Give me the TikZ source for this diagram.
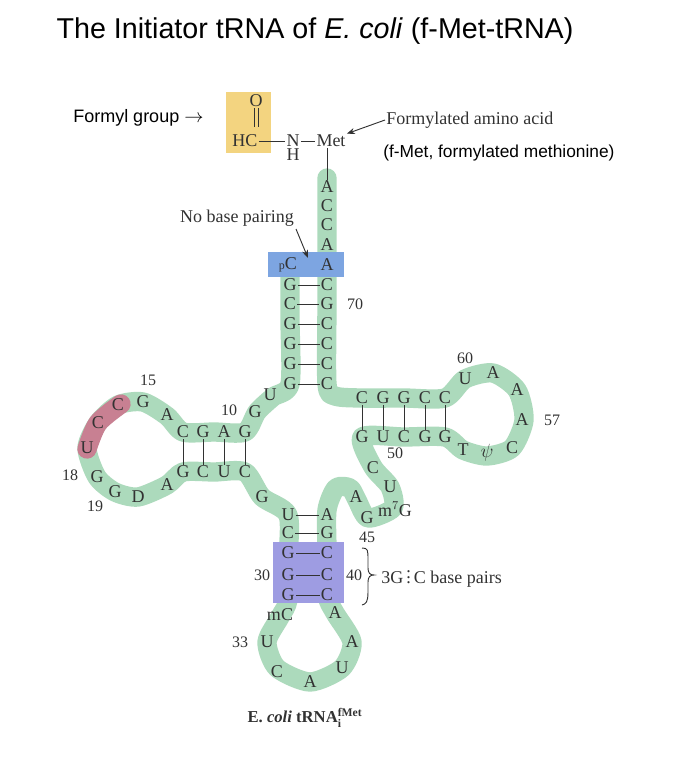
\documentclass[tikz,border=0pt]{standalone}
\usepackage{fontspec}
\setmainfont{Liberation Serif}
\newfontfamily\sansf{Liberation Sans}
\usetikzlibrary{arrows.meta}
\definecolor{band}{RGB}{172,218,188}
\definecolor{pinkb}{RGB}{200,128,146}
\definecolor{blueb}{RGB}{125,165,225}
\definecolor{purpb}{RGB}{158,156,226}
\definecolor{yelb}{RGB}{243,212,128}
\definecolor{ink}{RGB}{50,50,50}
\newcommand{\B}[4]{\node[nt] (#1) at (#2,#3) {#4};}
\newcommand{\Lb}[4]{\node[lab] (#1) at (#2,#3) {#4};}
\begin{document}
\begin{tikzpicture}[x=0.75pt,y=-0.75pt,
  nt/.style={inner sep=0.8pt,text=ink,font=\fontsize{13.5}{13.5}\selectfont},
  lab/.style={inner sep=0pt,text=ink,font=\fontsize{12}{12}\selectfont},
  pr/.style={draw=ink,line width=0.7pt},
  bandst/.style={line width=14.5pt,line cap=round,line join=round}]
\path[use as bounding box] (0,0) rectangle (689,758);
% title
\node[font=\sansf\fontsize{21.5}{21.5}\selectfont] (title) at (315,31) {The Initiator tRNA of \textit{E. coli} (f-Met-tRNA)};
% green band
\draw[bandst,band] plot[smooth,tension=0.45] coordinates {
 (290,262) (290,320) (290,384) (273,397) (257,412) (245,432) (214,432) (183,432) (167,416) (143,402)
 (118,405) (98,423) (87,448) (97,477) (115,492) (138,497) (167,485) (183,472) (214,472) (245,472)
 (262,497) (288,515) (288,560) (288,600) (280,617) (267,642) (277,668) (310,682) (342,668) (352,642)
 (335,613) (327,595) (327,550) (327,510) (336,488) (350,488) (357,500) (368,518) (393,508)
 (390,487) (373,467) (362,437) (404,437) (445,437) (463,450) (487,456) (512,448) (524,420) (517,390)
 (493,373) (465,379) (445,398) (404,398) (360,398) (335,396) (327,384) (327,300) (327,178)};
\draw[bandst,pinkb] plot[smooth,tension=0.5] coordinates {(121,404) (98,423) (87,449)};
% boxes
\fill[yelb] (226,92) rectangle (271,153);
\fill[blueb] (268,252) rectangle (344,277);
\fill[purpb] (273,542) rectangle (344,603);
% formyl
\node[font=\sansf\fontsize{13.5}{13.5}\selectfont,anchor=west,inner sep=0pt] (fg) at (73,118) {Formyl group $\rightarrow$};
\B{O}{256}{101}{O}
\B{HC}{245}{141}{HC}
\B{N}{293}{141}{N}
\B{H}{293}{155}{H}
\B{Met}{331}{141}{Met}
\draw[pr] ([xshift=-1.5pt]O.south) -- ([xshift=-1.5pt,yshift=5pt]HC.north -| O.south);
\draw[pr] ([xshift=1.5pt]O.south) -- ([xshift=1.5pt,yshift=5pt]HC.north -| O.south);
\draw[pr] (HC) -- (N);
\draw[pr] (N) -- (Met);
\node[nt,anchor=west] (faa) at (385,120) {Formylated amino acid};
\draw[-{Stealth[length=6pt]},draw=ink,line width=0.7pt] (faa.west) -- (Met.north east);
\node[font=\sansf\fontsize{13}{13}\selectfont,anchor=west,inner sep=0pt] (fmet) at (383,153) {(f-Met, formylated methionine)};
% acceptor
\B{a1}{327}{187}{A}\B{a2}{327}{206}{C}\B{a3}{327}{225}{C}\B{a4}{327}{245}{A}\B{a5}{327}{265}{A}
\draw[pr] (Met.south -| a1) -- (a1.north);
\node[nt] (pC) at (288,265) {{\fontsize{9}{9}\selectfont p}C};
\foreach \y/\l/\r [count=\i] in {285/G/C,304/C/G,324/G/C,344/G/C,364/G/C,384/G/C}{
  \B{al\i}{290}{\y}{\l}\B{ar\i}{327}{\y}{\r}\draw[pr] (al\i) -- (ar\i);}
\Lb{n70}{355}{304}{70}
\node[nt] (nbp) at (237,218) {No base pairing};
\coordinate (nbpt) at (308,258);
\draw[-{Stealth[length=6pt]},draw=ink,line width=0.7pt] (296,229) -- (nbpt);
% junction to D arm
\B{u8}{270}{395}{U}\B{g9}{255}{412}{G}\Lb{n10}{229}{410}{10}
\foreach \x/\t/\b [count=\i] in {183/C/G,203/G/C,224/A/U,245/G/C}{
  \B{dt\i}{\x}{432}{\t}\B{db\i}{\x}{472}{\b}\draw[pr] (dt\i) -- (db\i);}
\B{dA1}{167}{415}{A}\B{dG}{143}{402}{G}\Lb{n15}{148}{380}{15}
\B{dC1}{118}{405}{C}\B{dC2}{98}{423}{C}\B{dU}{87}{448}{U}
\B{dG18}{97}{477}{G}\Lb{n18}{70}{475}{18}
\B{dG19}{115}{492}{G}\Lb{n19}{95}{506}{19}
\B{dD}{138}{497}{D}\B{dA2}{167}{485}{A}
\B{g26}{262}{497}{G}
% anticodon
\foreach \y/\l/\r [count=\i] in {515/U/A,533/C/G,553/G/C,575/G/C,595/G/C}{
  \B{cl\i}{288}{\y}{\l}\B{cr\i}{327}{\y}{\r}\draw[pr] (cl\i) -- (cr\i);}
\Lb{n30}{262}{575}{30}\Lb{n40}{354}{575}{40}
\B{mC}{280}{615}{mC}\B{ac1}{267}{642}{U}\Lb{n33}{240}{642}{33}
\B{ac2}{277}{672}{C}\B{ac3}{310}{682}{A}\B{ac4}{342}{668}{U}\B{ac5}{352}{642}{A}\B{ac6}{335}{613}{A}
\draw[draw=ink,line width=0.7pt] (362,548) .. controls (368,548) and (368,550) .. (368,560) -- (368,568) .. controls (368,573) and (370,575) .. (374,575) .. controls (370,575) and (368,577) .. (368,582) -- (368,592) .. controls (368,602) and (366,604) .. (362,605);
\node[nt,anchor=west] (gc) at (380,575) {3G\,$\vdots$\,C base pairs};
% variable loop
\B{vA}{356}{497}{A}\B{vG}{367}{518}{G}\B{m7G}{395}{509}{m$^7$G}\Lb{n45}{367}{537}{45}
\B{vU}{390}{487}{U}\B{vC}{373}{468}{C}
% T arm
\foreach \x/\t/\b [count=\i] in {362/C/G,383/G/U,404/G/C,425/C/G,445/C/G}{
  \B{tt\i}{\x}{398}{\t}\B{tb\i}{\x}{437}{\b}\draw[pr] (tt\i) -- (tb\i);}
\Lb{n50}{395}{453}{50}
\B{tT}{463}{450}{T}\B{tpsi}{487}{453}{$\psi$}\B{tC}{512}{448}{C}
\B{tA1}{522}{420}{A}\Lb{n57}{552}{420}{57}\B{tA2}{517}{390}{A}\B{tA3}{493}{373}{A}
\B{tU}{465}{379}{U}\Lb{n60}{465}{358}{60}
% caption
\node[text=ink,font=\fontsize{12.5}{12.5}\selectfont\bfseries] (cap) at (305,718) {E. \textit{coli} tRNA$^{\mathbf{fMet}}_{\mathbf{i}}$};
\end{tikzpicture}
\end{document}
